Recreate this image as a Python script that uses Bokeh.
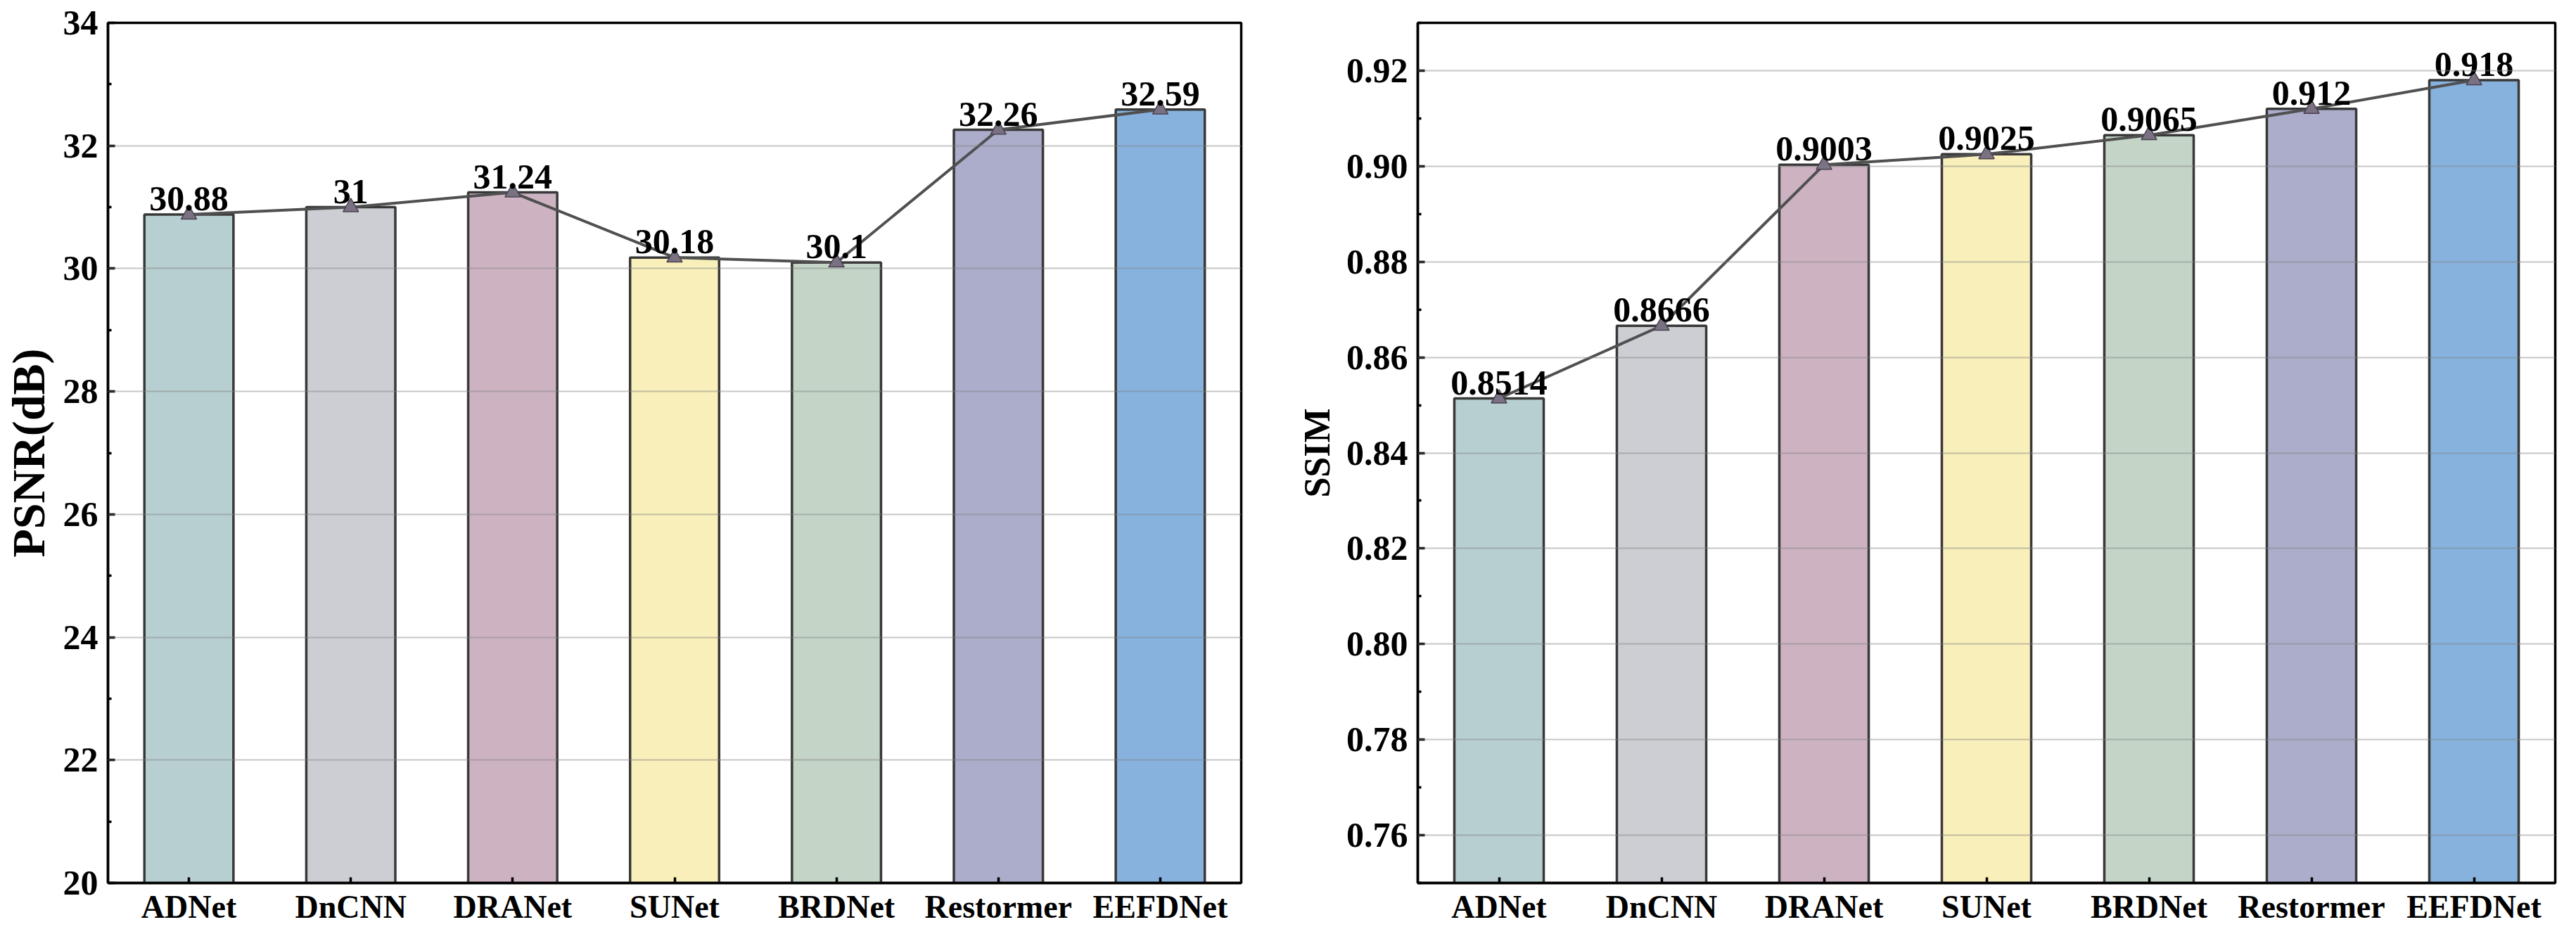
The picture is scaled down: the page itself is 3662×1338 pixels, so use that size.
from bokeh.plotting import figure
from bokeh.layouts import row
from bokeh.models import FixedTicker, Range1d, ColumnDataSource, NumeralTickFormatter
from bokeh.core.properties import value
from bokeh.embed import file_html
from bokeh.resources import INLINE

models = ["ADNet", "DnCNN", "DRANet", "SUNet", "BRDNet", "Restormer", "EEFDNet"]
psnr = [30.88, 31.0, 31.24, 30.18, 30.1, 32.26, 32.59]
ssim = [0.8514, 0.8666, 0.9003, 0.9025, 0.9065, 0.912, 0.918]
bar_colors = ["#b7cfd0", "#cdced4", "#cdb3c2", "#f8efba", "#c4d4c6", "#abadca", "#87b2de"]

psnr_ticks = [20, 22, 24, 26, 28, 30, 32, 34]
psnr_minor = [21, 23, 25, 27, 29, 31, 33]
ssim_ticks = [0.76, 0.78, 0.80, 0.82, 0.84, 0.86, 0.88, 0.90, 0.92]
ssim_minor = [0.75, 0.77, 0.79, 0.81, 0.83, 0.85, 0.87, 0.89, 0.91, 0.93]

FONT = "Liberation Serif"
H = 1322


def make_chart(vals, yr, ticks, minor, fmt, ylabel, title_size, width, mbl, mbr):
    p = figure(x_range=models, y_range=Range1d(*yr), width=width, height=H,
               output_backend="svg", toolbar_location=None,
               min_border_left=mbl, min_border_right=mbr,
               min_border_top=32, min_border_bottom=H - 1255)
    src = ColumnDataSource(dict(x=models, y=vals, c=bar_colors,
                                lab=[f"{v:g}" for v in vals]))
    p.vbar(x="x", top="y", bottom=yr[0], width=0.55, source=src,
           fill_color="c", line_color="#383838", line_width=3.5)
    p.line(x="x", y="y", source=src, line_color="#505050", line_width=4)
    p.scatter(x="x", y="y", source=src, marker="triangle", size=22,
              fill_color="#7a7282", line_color="#4b4252", line_width=1.5)
    p.text(x="x", y="y", text="lab", source=src, text_align="center",
           text_baseline="bottom", y_offset=-6,
           text_font=value(FONT), text_font_style="bold",
           text_font_size="50px", text_color="black")

    p.xgrid.visible = False
    p.ygrid.ticker = FixedTicker(ticks=ticks)
    p.ygrid.grid_line_color = "#808080"
    p.ygrid.grid_line_alpha = 0.45
    p.ygrid.grid_line_width = 2
    p.ygrid.level = "annotation"

    p.yaxis.ticker = FixedTicker(ticks=ticks, minor_ticks=minor)
    p.yaxis.formatter = NumeralTickFormatter(format=fmt)
    for ax in (p.xaxis[0], p.yaxis[0]):
        ax.axis_line_width = 3.5
        ax.axis_line_color = "black"
        ax.major_tick_line_width = 3.5
        ax.minor_tick_line_width = 3.5
        ax.major_tick_line_color = "black"
        ax.minor_tick_line_color = "black"
        ax.major_tick_in = 10
        ax.major_tick_out = 0
        ax.minor_tick_in = 5
        ax.minor_tick_out = 0
        ax.major_label_text_font = FONT
        ax.major_label_text_font_style = "bold"
        ax.major_label_text_color = "black"
    p.yaxis.major_label_text_font_size = "50px"
    p.xaxis.major_label_text_font_size = "46px"
    p.xaxis.major_label_standoff = 8
    p.xaxis.major_tick_in = 8
    p.yaxis.major_label_standoff = 14
    p.yaxis.axis_label = ylabel
    p.yaxis.axis_label_text_font = FONT
    p.yaxis.axis_label_text_font_style = "bold"
    p.yaxis.axis_label_text_font_size = title_size
    p.yaxis.axis_label_text_color = "black"
    p.yaxis.axis_label_standoff = 10

    p.outline_line_color = "black"
    p.outline_line_width = 3.5
    p.outline_line_alpha = 1
    p.background_fill_color = "white"
    p.border_fill_color = "white"
    return p


p1 = make_chart(psnr, (20, 34), psnr_ticks, psnr_minor, "0", "PSNR(dB)", "66px", 1840, 134, 76)
p2 = make_chart(ssim, (0.75, 0.93), ssim_ticks, ssim_minor, "0.00", "SSIM", "52px", 1806, 164, 14)

layout = row(p1, p2)
open("out.html", "w").write(file_html(layout, INLINE))
